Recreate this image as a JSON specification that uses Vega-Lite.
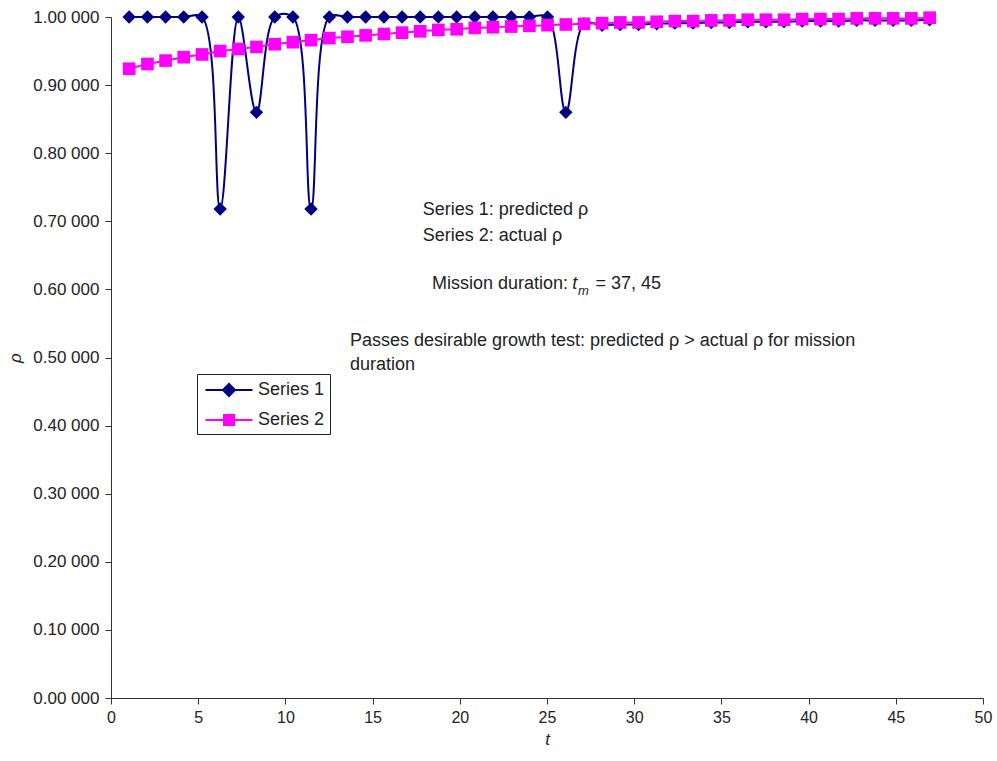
{
  "$schema": "https://vega.github.io/schema/vega-lite/v6.json",
  "width": 872,
  "height": 681,
  "autosize": {"type": "none"},
  "padding": {"left": 111, "top": 17, "right": 14, "bottom": 63},
  "background": "white",
  "config": {
    "view": {"stroke": null},
    "font": "Liberation Sans",
    "axis": {
      "grid": false,
      "domainColor": "#333",
      "tickColor": "#333",
      "tickSize": 6,
      "labelFont": "Liberation Sans",
      "labelFontSize": 16,
      "labelColor": "#222",
      "titleFont": "Liberation Sans",
      "titleFontSize": 17,
      "titleFontWeight": "normal",
      "titleFontStyle": "italic",
      "titleColor": "#222",
      "labelFlush": false
    }
  },
  "data": {
    "values": [
      {"t": 1.04, "rho": 1, "series": "Series 1"},
      {"t": 2.09, "rho": 1, "series": "Series 1"},
      {"t": 3.13, "rho": 1, "series": "Series 1"},
      {"t": 4.17, "rho": 1, "series": "Series 1"},
      {"t": 5.22, "rho": 1, "series": "Series 1"},
      {"t": 6.26, "rho": 0.718, "series": "Series 1"},
      {"t": 7.30, "rho": 1, "series": "Series 1"},
      {"t": 8.34, "rho": 0.86, "series": "Series 1"},
      {"t": 9.39, "rho": 1, "series": "Series 1"},
      {"t": 10.43, "rho": 1, "series": "Series 1"},
      {"t": 11.47, "rho": 0.718, "series": "Series 1"},
      {"t": 12.52, "rho": 1, "series": "Series 1"},
      {"t": 13.56, "rho": 1, "series": "Series 1"},
      {"t": 14.60, "rho": 1, "series": "Series 1"},
      {"t": 15.65, "rho": 1, "series": "Series 1"},
      {"t": 16.69, "rho": 1, "series": "Series 1"},
      {"t": 17.73, "rho": 1, "series": "Series 1"},
      {"t": 18.77, "rho": 1, "series": "Series 1"},
      {"t": 19.82, "rho": 1, "series": "Series 1"},
      {"t": 20.86, "rho": 1, "series": "Series 1"},
      {"t": 21.90, "rho": 1, "series": "Series 1"},
      {"t": 22.95, "rho": 1, "series": "Series 1"},
      {"t": 23.99, "rho": 1, "series": "Series 1"},
      {"t": 25.03, "rho": 1, "series": "Series 1"},
      {"t": 26.08, "rho": 0.86, "series": "Series 1"},
      {"t": 27.12, "rho": 0.99, "series": "Series 1"},
      {"t": 28.16, "rho": 0.988, "series": "Series 1"},
      {"t": 29.20, "rho": 0.989, "series": "Series 1"},
      {"t": 30.25, "rho": 0.989, "series": "Series 1"},
      {"t": 31.29, "rho": 0.990, "series": "Series 1"},
      {"t": 32.33, "rho": 0.991, "series": "Series 1"},
      {"t": 33.38, "rho": 0.991, "series": "Series 1"},
      {"t": 34.42, "rho": 0.992, "series": "Series 1"},
      {"t": 35.46, "rho": 0.992, "series": "Series 1"},
      {"t": 36.51, "rho": 0.993, "series": "Series 1"},
      {"t": 37.55, "rho": 0.993, "series": "Series 1"},
      {"t": 38.59, "rho": 0.993, "series": "Series 1"},
      {"t": 39.63, "rho": 0.994, "series": "Series 1"},
      {"t": 40.68, "rho": 0.994, "series": "Series 1"},
      {"t": 41.72, "rho": 0.994, "series": "Series 1"},
      {"t": 42.76, "rho": 0.995, "series": "Series 1"},
      {"t": 43.81, "rho": 0.995, "series": "Series 1"},
      {"t": 44.85, "rho": 0.995, "series": "Series 1"},
      {"t": 45.89, "rho": 0.995, "series": "Series 1"},
      {"t": 46.94, "rho": 0.996, "series": "Series 1"},
      {"t": 1.04, "rho": 0.924, "series": "Series 2"},
      {"t": 2.09, "rho": 0.931, "series": "Series 2"},
      {"t": 3.13, "rho": 0.936, "series": "Series 2"},
      {"t": 4.17, "rho": 0.941, "series": "Series 2"},
      {"t": 5.22, "rho": 0.945, "series": "Series 2"},
      {"t": 6.26, "rho": 0.950, "series": "Series 2"},
      {"t": 7.30, "rho": 0.953, "series": "Series 2"},
      {"t": 8.34, "rho": 0.956, "series": "Series 2"},
      {"t": 9.39, "rho": 0.960, "series": "Series 2"},
      {"t": 10.43, "rho": 0.963, "series": "Series 2"},
      {"t": 11.47, "rho": 0.966, "series": "Series 2"},
      {"t": 12.52, "rho": 0.969, "series": "Series 2"},
      {"t": 13.56, "rho": 0.971, "series": "Series 2"},
      {"t": 14.60, "rho": 0.973, "series": "Series 2"},
      {"t": 15.65, "rho": 0.975, "series": "Series 2"},
      {"t": 16.69, "rho": 0.977, "series": "Series 2"},
      {"t": 17.73, "rho": 0.979, "series": "Series 2"},
      {"t": 18.77, "rho": 0.981, "series": "Series 2"},
      {"t": 19.82, "rho": 0.982, "series": "Series 2"},
      {"t": 20.86, "rho": 0.984, "series": "Series 2"},
      {"t": 21.90, "rho": 0.985, "series": "Series 2"},
      {"t": 22.95, "rho": 0.986, "series": "Series 2"},
      {"t": 23.99, "rho": 0.987, "series": "Series 2"},
      {"t": 25.03, "rho": 0.988, "series": "Series 2"},
      {"t": 26.08, "rho": 0.989, "series": "Series 2"},
      {"t": 27.12, "rho": 0.990, "series": "Series 2"},
      {"t": 28.16, "rho": 0.991, "series": "Series 2"},
      {"t": 29.20, "rho": 0.992, "series": "Series 2"},
      {"t": 30.25, "rho": 0.992, "series": "Series 2"},
      {"t": 31.29, "rho": 0.993, "series": "Series 2"},
      {"t": 32.33, "rho": 0.994, "series": "Series 2"},
      {"t": 33.38, "rho": 0.994, "series": "Series 2"},
      {"t": 34.42, "rho": 0.995, "series": "Series 2"},
      {"t": 35.46, "rho": 0.995, "series": "Series 2"},
      {"t": 36.51, "rho": 0.996, "series": "Series 2"},
      {"t": 37.55, "rho": 0.996, "series": "Series 2"},
      {"t": 38.59, "rho": 0.996, "series": "Series 2"},
      {"t": 39.63, "rho": 0.997, "series": "Series 2"},
      {"t": 40.68, "rho": 0.997, "series": "Series 2"},
      {"t": 41.72, "rho": 0.997, "series": "Series 2"},
      {"t": 42.76, "rho": 0.998, "series": "Series 2"},
      {"t": 43.81, "rho": 0.998, "series": "Series 2"},
      {"t": 44.85, "rho": 0.998, "series": "Series 2"},
      {"t": 45.89, "rho": 0.998, "series": "Series 2"},
      {"t": 46.94, "rho": 0.999, "series": "Series 2"}
    ]
  },
  "layer": [
    {
      "mark": {"type": "line", "interpolate": "catmull-rom", "strokeWidth": 2},
      "encoding": {
        "x": {"field": "t", "type": "quantitative", "scale": {"domain": [0, 50], "nice": false},
              "axis": {"title": "t", "values": [0, 5, 10, 15, 20, 25, 30, 35, 40, 45, 50], "labelPadding": 5, "titlePadding": 6}},
        "y": {"field": "rho", "type": "quantitative", "scale": {"domain": [0, 1], "nice": false, "zero": true},
              "axis": {"title": "ρ", "values": [0, 0.1, 0.2, 0.3, 0.4, 0.5, 0.6, 0.7, 0.8, 0.9, 1.0],
                       "labelExpr": "substring(format(datum.value, '.5f'), 0, 4) + ' ' + substring(format(datum.value, '.5f'), 4)",
                       "labelFontSize": 17, "labelPadding": 6, "titlePadding": 8}},
        "color": {
          "field": "series", "type": "nominal",
          "scale": {"domain": ["Series 1", "Series 2"], "range": ["#000080", "#ff00ff"]},
          "legend": {
            "orient": "none", "legendX": 86, "legendY": 357, "title": null,
            "padding": 5, "strokeColor": "#222", "fillColor": "white",
            "symbolSize": 400, "symbolOffset": 16, "labelOffset": 18, "rowPadding": 9,
            "labelFontSize": 18, "labelFont": "Liberation Sans", "labelColor": "#222",
            "symbolStrokeWidth": 2,
            "encode": {"symbols": {"update": {
              "shape": {"signal": "datum.value === 'Series 1' ? 'M-2.35,0L2.35,0M-0.6,0L0,-0.6L0.6,0L0,0.6Z' : 'M-2.35,0L2.35,0M-0.5,-0.5L0.5,-0.5L0.5,0.5L-0.5,0.5Z'"},
              "fill": {"signal": "datum.value === 'Series 1' ? '#000080' : '#ff00ff'"},
              "fillOpacity": {"value": 1},
              "stroke": {"signal": "datum.value === 'Series 1' ? '#000080' : '#ff00ff'"},
              "strokeWidth": {"value": 2}
            }}}
          }
        },
        "detail": {"field": "series"}
      }
    },
    {
      "transform": [{"filter": "datum.series === 'Series 1'"}],
      "mark": {"type": "point", "shape": "diamond", "filled": true, "opacity": 1, "color": "#000080", "size": 180},
      "encoding": {
        "x": {"field": "t", "type": "quantitative"},
        "y": {"field": "rho", "type": "quantitative"}
      }
    },
    {
      "transform": [{"filter": "datum.series === 'Series 2'"}],
      "mark": {"type": "point", "shape": "square", "filled": true, "opacity": 1, "color": "#ff00ff", "size": 160},
      "encoding": {
        "x": {"field": "t", "type": "quantitative"},
        "y": {"field": "rho", "type": "quantitative"}
      }
    },
    {
      "data": {"values": [{}]},
      "mark": {"type": "text", "align": "left", "baseline": "middle", "fontSize": 18, "font": "Liberation Sans", "color": "#222"},
      "encoding": {"x": {"datum": 17.88}, "y": {"datum": 0.7166}, "text": {"value": "Series 1: predicted ρ"}}
    },
    {
      "data": {"values": [{}]},
      "mark": {"type": "text", "align": "left", "baseline": "middle", "fontSize": 18, "font": "Liberation Sans", "color": "#222"},
      "encoding": {"x": {"datum": 17.88}, "y": {"datum": 0.678}, "text": {"value": "Series 2: actual ρ"}}
    },
    {
      "data": {"values": [{}]},
      "mark": {"type": "text", "align": "left", "baseline": "middle", "fontSize": 18, "font": "Liberation Sans", "color": "#222"},
      "encoding": {"x": {"datum": 18.4}, "y": {"datum": 0.608}, "text": {"value": "Mission duration:"}}
    },
    {
      "data": {"values": [{}]},
      "mark": {"type": "text", "align": "left", "baseline": "middle", "fontSize": 18, "font": "Liberation Sans", "fontStyle": "italic", "color": "#222"},
      "encoding": {"x": {"datum": 26.45}, "y": {"datum": 0.608}, "text": {"value": "t"}}
    },
    {
      "data": {"values": [{}]},
      "mark": {"type": "text", "align": "left", "baseline": "middle", "fontSize": 13, "font": "Liberation Sans", "fontStyle": "italic", "color": "#222"},
      "encoding": {"x": {"datum": 26.78}, "y": {"datum": 0.598}, "text": {"value": "m"}}
    },
    {
      "data": {"values": [{}]},
      "mark": {"type": "text", "align": "left", "baseline": "middle", "fontSize": 18, "font": "Liberation Sans", "color": "#222"},
      "encoding": {"x": {"datum": 27.78}, "y": {"datum": 0.608}, "text": {"value": "= 37, 45"}}
    },
    {
      "data": {"values": [{}]},
      "mark": {"type": "text", "align": "left", "baseline": "middle", "fontSize": 18, "font": "Liberation Sans", "color": "#222"},
      "encoding": {"x": {"datum": 13.7}, "y": {"datum": 0.5242}, "text": {"value": "Passes desirable growth test: predicted ρ > actual ρ for mission"}}
    },
    {
      "data": {"values": [{}]},
      "mark": {"type": "text", "align": "left", "baseline": "middle", "fontSize": 18, "font": "Liberation Sans", "color": "#222"},
      "encoding": {"x": {"datum": 13.7}, "y": {"datum": 0.489}, "text": {"value": "duration"}}
    }
  ]
}
